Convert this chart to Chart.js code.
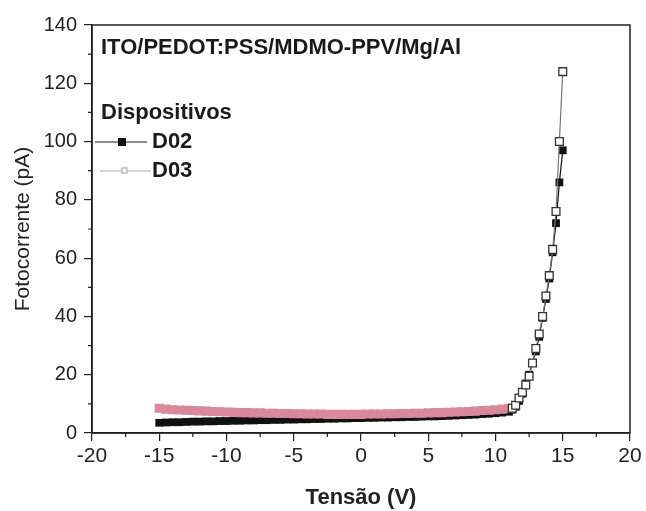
<!DOCTYPE html>
<html>
<head>
<meta charset="utf-8">
<script src="https://cdn.jsdelivr.net/npm/chart.js@4.4.1/dist/chart.umd.min.js"></script>
<style>
  html, body { margin: 0; padding: 0; background: #fff; }
  #wrap { width: 646px; height: 511px; }
</style>
</head>
<body>
<div id="wrap"><canvas id="ivChart" width="646" height="511"></canvas></div>
<script>
// Tensão (V) e fotocorrente (pA)
const voltageFlat = [-15, -14.5, -14, -13.5, -13, -12.5, -12, -11.5, -11, -10.5, -10, -9.5, -9, -8.5, -8, -7.5, -7, -6.5, -6, -5.5,
    -5, -4.5, -4, -3.5, -3, -2.5, -2, -1.5, -1, -0.5, 0, 0.5, 1, 1.5, 2, 2.5, 3, 3.5, 4, 4.5,
    5, 5.5, 6, 6.5, 7, 7.5, 8, 8.5, 9, 9.5, 10, 10.5, 11];
const voltageRise = [11.25, 11.5, 11.75, 12, 12.25, 12.5, 12.75, 13, 13.25, 13.5, 13.75, 14, 14.25, 14.5, 14.75, 15];

const d02Flat = [3.5, 3.6, 3.7, 3.7, 3.8, 3.9, 3.9, 4.0, 4.0, 4.1, 4.1, 4.2, 4.2, 4.3, 4.3, 4.4, 4.4, 4.5, 4.5, 4.6,
    4.6, 4.7, 4.7, 4.8, 4.8, 4.9, 4.9, 5.0, 5.0, 5.1, 5.1, 5.2, 5.2, 5.3, 5.3, 5.4, 5.4, 5.5, 5.5, 5.6,
    5.7, 5.7, 5.8, 5.9, 6.0, 6.1, 6.2, 6.3, 6.5, 6.6, 6.8, 7.0, 7.3];
const d02Rise = [8, 9, 11, 13.5, 17, 20, 24, 28, 33, 39.5, 46, 53, 62, 72, 86, 97];

const d03Flat = [8.5, 8.2, 8.0, 7.9, 7.8, 7.7, 7.6, 7.5, 7.4, 7.3, 7.2, 7.1, 7.0, 7.0, 6.9, 6.9, 6.8, 6.8, 6.7, 6.7,
    6.6, 6.6, 6.5, 6.5, 6.5, 6.4, 6.4, 6.4, 6.4, 6.4, 6.4, 6.5, 6.5, 6.5, 6.6, 6.6, 6.7, 6.7, 6.8, 6.8,
    6.9, 7.0, 7.0, 7.1, 7.2, 7.3, 7.4, 7.5, 7.7, 7.8, 8.0, 8.2, 8.5];
const d03Rise = [8.5, 9.5, 12, 14, 16.5, 19.5, 24, 29, 34, 40, 47, 54, 63, 76, 100, 124];

const xTicks = [-20, -15, -10, -5, 0, 5, 10, 15, 20];
const yTicks = [0, 20, 40, 60, 80, 100, 120, 140];

const FONT = '"Liberation Sans", Arial, sans-serif';
const PINK = '#d9899a';

function toPoints(xs, ys) {
    return xs.map((x, i) => ({ x: x, y: ys[i] }));
}

const d02Data = toPoints(voltageFlat.concat(voltageRise), d02Flat.concat(d02Rise));
const d03Data = toPoints(voltageFlat.concat(voltageRise), d03Flat.concat(d03Rise));

// Moldura, ticks menores e legenda interna
const framePlugin = {
    id: 'frame',
    afterDraw(chart) {
        const { ctx, chartArea: a, scales } = chart;
        ctx.save();
        ctx.strokeStyle = '#222';
        ctx.lineWidth = 1.5;
        ctx.strokeRect(a.left, a.top, a.right - a.left, a.bottom - a.top);

        // ticks menores
        ctx.lineWidth = 1.2;
        ctx.beginPath();
        for (let i = 0; i < xTicks.length - 1; i++) {
            const px = scales.x.getPixelForValue((xTicks[i] + xTicks[i + 1]) / 2);
            ctx.moveTo(px, a.bottom);
            ctx.lineTo(px, a.bottom + 4);
        }
        for (let i = 0; i < yTicks.length - 1; i++) {
            const py = scales.y.getPixelForValue((yTicks[i] + yTicks[i + 1]) / 2);
            ctx.moveTo(a.left, py);
            ctx.lineTo(a.left - 4, py);
        }
        ctx.stroke();

        // texto do dispositivo
        ctx.fillStyle = '#1a1a1a';
        ctx.textBaseline = 'middle';
        ctx.textAlign = 'left';
        ctx.font = 'bold 22px ' + FONT;
        ctx.fillText('ITO/PEDOT:PSS/MDMO-PPV/Mg/Al', 101, 48);

        ctx.fillText('Dispositivos', 101, 113);
        ctx.fillText('D02', 152, 142);
        ctx.fillText('D03', 152, 171);

        // amostra D02
        ctx.strokeStyle = '#222';
        ctx.lineWidth = 1.2;
        ctx.beginPath();
        ctx.moveTo(95, 142); ctx.lineTo(147, 142);
        ctx.stroke();
        ctx.fillStyle = '#111';
        ctx.fillRect(118, 138, 8, 8);

        // amostra D03
        ctx.strokeStyle = '#aaa';
        ctx.beginPath();
        ctx.moveTo(100, 171); ctx.lineTo(151, 171);
        ctx.stroke();
        ctx.fillStyle = '#fff';
        ctx.fillRect(122, 168, 5, 5);
        ctx.strokeRect(122, 168, 5, 5);
        ctx.restore();
    }
};

const ctx = document.getElementById('ivChart').getContext('2d');
const ivChart = new Chart(ctx, {
    type: 'scatter',
    data: {
        datasets: [
            {
                label: 'D02',
                data: d02Data,
                showLine: true,
                borderColor: '#111',
                borderWidth: 1.2,
                backgroundColor: '#111',
                pointStyle: 'rect',
                pointRadius: 5.5,
                pointBorderWidth: 0,
                pointBorderColor: '#111',
                order: 1
            },
            {
                label: 'D03',
                data: d03Data,
                showLine: true,
                borderColor: '#777',
                borderWidth: 1.2,
                segment: {
                    borderColor: c => c.p1.parsed.x <= 11 ? PINK : '#777'
                },
                pointStyle: 'rect',
                pointRadius: 5.5,
                pointBorderWidth: 1.3,
                pointBackgroundColor: c => (c.raw && c.raw.x <= 11) ? PINK : '#fff',
                pointBorderColor: c => (c.raw && c.raw.x <= 11) ? PINK : '#333',
                order: 0
            }
        ]
    },
    options: {
        responsive: false,
        animation: false,
        layout: { padding: { left: 0, right: 16, top: 25, bottom: 0 } },
        scales: {
            x: {
                type: 'linear',
                min: -20,
                max: 20,
                afterFit(scale) { scale.height = 78; },
                afterBuildTicks(scale) { scale.ticks = xTicks.map(v => ({ value: v })); },
                grid: { display: true, drawOnChartArea: false, drawTicks: true, tickLength: 8, color: '#222', lineWidth: 1.2 },
                border: { display: true, color: '#222', width: 1.5 },
                ticks: {
                    color: '#222',
                    font: { family: FONT, size: 21 },
                    padding: 3,
                    maxRotation: 0
                },
                title: {
                    display: true,
                    text: 'Tensão (V)',
                    color: '#222',
                    font: { family: FONT, size: 22, weight: 'bold' },
                    padding: { top: 0, bottom: 0 }
                }
            },
            y: {
                type: 'linear',
                min: 0,
                max: 140,
                afterFit(scale) { scale.width = 92; },
                afterBuildTicks(scale) { scale.ticks = yTicks.map(v => ({ value: v })); },
                grid: { display: true, drawOnChartArea: false, drawTicks: true, tickLength: 8, color: '#222', lineWidth: 1.2 },
                border: { display: true, color: '#222', width: 1.5 },
                ticks: {
                    color: '#222',
                    font: { family: FONT, size: 20 },
                    padding: 7
                },
                title: {
                    display: true,
                    text: 'Fotocorrente (pA)',
                    color: '#222',
                    font: { family: FONT, size: 21 },
                    padding: { top: 11, bottom: 0 }
                }
            }
        },
        plugins: {
            legend: { display: false },
            tooltip: { enabled: false }
        }
    },
    plugins: [framePlugin]
});
</script>
</body>
</html>
